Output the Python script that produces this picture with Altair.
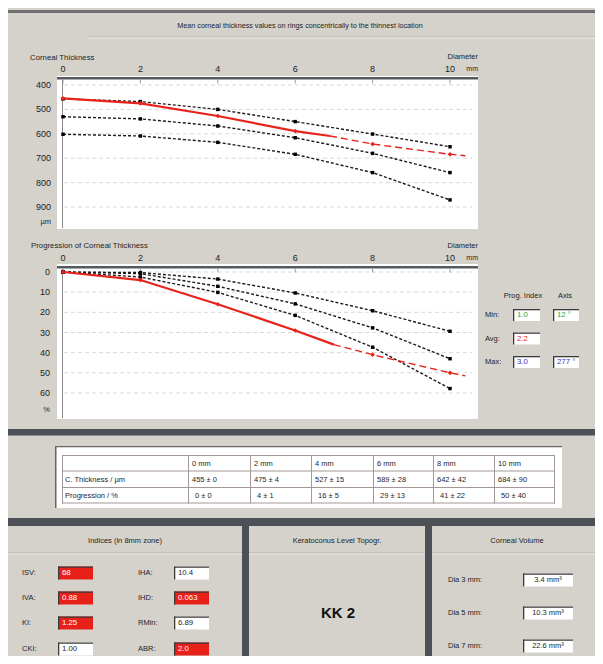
import altair as alt
import pandas as pd

# ---------------- data ----------------
diam = [0, 2, 4, 6, 8, 10]
thick_patient = [455, 475, 527, 589, 642, 684]
thick_sd = [0, 4, 15, 28, 42, 90]
prog_patient = [0, 4, 16, 29, 41, 50]
prog_sd = [0, 1, 5, 13, 22, 40]

norm_thick_a = [457, 468, 500, 550, 601, 653]
norm_thick_b = [530, 539, 568, 616, 680, 759]
norm_thick_c = [602, 609, 635, 684, 759, 871]
norm_prog_a = [0, 0.3, 3.5, 10.4, 19.2, 29.4]
norm_prog_b = [0, 0.8, 7.1, 15.8, 27.7, 43.0]
norm_prog_c = [0, 2.5, 10.1, 21.5, 37.3, 57.8]

# end of the measured (solid) red curve and of the extrapolated (dashed) part
thick_solid_end = [6.9, 609]
thick_dash_end = [10.4, 690]
prog_solid_end = [7.0, 36]
prog_dash_end = [10.4, 51.5]

thick_ticks = [400, 500, 600, 700, 800, 900]
prog_ticks = [0, 10, 20, 30, 40, 50, 60]
diam_ticks = [0, 2, 4, 6, 8, 10]

prog_index_labels = ["Min:", "Avg:", "Max:"]
prog_index_values = ["1.0", "2.2", "3.0"]
prog_index_axes = ["12 °", "", "277 °"]
prog_index_colors = ["#2fa83a", "#e0201a", "#3535b5"]

index_names_left = ["ISV:", "IVA:", "KI:", "CKI:"]
index_values_left = ["68", "0.88", "1.25", "1.00"]
index_flag_left = [True, True, True, False]
index_names_right = ["IHA:", "IHD:", "RMin:", "ABR:"]
index_values_right = ["10.4", "0.063", "6.89", "2.0"]
index_flag_right = [False, True, False, True]

kk_level = "KK 2"
volume_labels = ["Dia 3 mm:", "Dia 5 mm:", "Dia 7 mm:"]
volume_values = ["3.4 mm³", "10.3 mm³", "22.6 mm³"]

# ---------------- layout helpers ----------------
OFF = 8
def px(v):
    return v - OFF

FONT = "Liberation Sans"
BG = "#d5d2cc"
DARK = "#4c5157"
RED = "#e8231b"
BOXRED = "#e8201a"
TXT = "#1e1e1e"

rects = []
def rect(x0, x1, y0, y1, fill):
    rects.append({"x": px(x0), "x2": px(x1), "y": px(y0), "y2": px(y1), "fill": fill})

def sunken(x0, x1, y0, y1, fill="#ffffff"):
    rect(x0, x1, y0, y1, fill)
    rect(x0, x1, y0, y0 + 1.3, "#3a3a3a")
    rect(x0, x0 + 1.3, y0, y1, "#3a3a3a")

texts = []
def txt(x, y, s, align="left", size=7.5, color=TXT, weight="normal"):
    texts.append({"x": px(x), "y": px(y), "t": s, "align": align,
                  "size": size, "color": color, "weight": weight})

# top frame
rect(8, 603, 10, 13, "#6f6f6f")
rect(88, 600, 36.5, 37.5, "#bdbab3")
rect(88, 600, 37.5, 38.5, "#eeece8")
txt(300, 26, "Mean corneal thickness values on rings concentrically to the thinnest location", "center", 7.2)

# thickness plot frame
rect(57, 478, 76, 229, "#ffffff")
rect(57, 478, 77, 79.5, "#555a5f")
rect(62, 63, 79.5, 228, "#8a8a8a")
txt(30, 57.5, "Corneal Thickness", "left", 7.8)
txt(478, 57, "Diameter", "right", 7.5)
txt(478, 68.5, "mm", "right", 7)
txt(51, 221.5, "µm", "right", 7.5)

# progression plot frame
rect(57, 478, 264, 419, "#ffffff")
rect(57, 478, 266, 268.5, "#555a5f")
rect(62, 63, 268.5, 418, "#8a8a8a")
txt(31, 246, "Progression of Corneal Thickness", "left", 7.8)
txt(478, 246, "Diameter", "right", 7.5)
txt(478, 257.5, "mm", "right", 7)
txt(50, 410, "%", "right", 7.5)

# progression index boxes
txt(523, 295.5, "Prog. Index", "center", 7.5)
txt(565, 295.5, "Axis", "center", 7.5)
for lab, val, ax, col, yc in zip(prog_index_labels, prog_index_values, prog_index_axes,
                                 prog_index_colors, [315, 338.5, 362]):
    txt(485, yc, lab, "left", 7.5)
    sunken(513, 540, yc - 6, yc + 6)
    txt(517, yc, val, "left", 7.8, col)
    if ax:
        sunken(553, 579, yc - 6, yc + 6)
        txt(557, yc, ax, "left", 7.8, col)

# separator
rect(8, 603, 429, 435.5, DARK)

# table
rect(55, 562, 446, 508, "#ffffff")
rect(55, 562, 446, 447.3, "#666666")
rect(55, 56.5, 446, 508, "#666666")
GRID = "#a39797"
rect(62, 555, 455, 456, GRID)
rect(62, 555, 470.5, 471.5, GRID)
rect(62, 555, 487, 488, GRID)
rect(62, 555, 502.5, 503.5, GRID)
col_left = [188, 250, 311, 373, 433, 494]
for xv in [62] + col_left + [554]:
    rect(xv, xv + 1, 455, 503.5, GRID)
txt(65, 479.5, "C. Thickness / µm")
txt(65, 495.5, "Progression / %")
for i, d in enumerate(diam):
    x0 = col_left[i]
    txt(x0 + 4, 463.5, f"{d} mm")
    txt(x0 + 4, 479.5, f"{thick_patient[i]} ± {thick_sd[i]}")
    txt(x0 + 7, 495.5, f"{prog_patient[i]} ± {prog_sd[i]}")

# bottom separators and panels
rect(8, 603, 518, 526, DARK)
rect(242, 249, 526, 664, DARK)
rect(425, 432, 526, 664, DARK)
for a, b in [(8, 242), (249, 425), (432, 603)]:
    rect(a, b, 552.5, 553.5, "#b3b0a9")
    rect(a, b, 553.5, 554.5, "#efede9")
txt(125, 541, "Indices (in 8mm zone)", "center")
txt(337, 541, "Keratoconus Level Topogr.", "center")
txt(517, 541, "Corneal Volume", "center")

for names, vals, flags, lx, bx0, bx1 in [
        (index_names_left, index_values_left, index_flag_left, 22, 58, 93),
        (index_names_right, index_values_right, index_flag_right, 138, 174, 209)]:
    for n, v, f, yc in zip(names, vals, flags, [573, 598, 623, 649]):
        txt(lx, yc, n)
        sunken(bx0, bx1, yc - 6.5, yc + 6.5, BOXRED if f else "#ffffff")
        txt(bx0 + 4, yc, v, "left", 7.8, "#ffffff" if f else TXT)

txt(338, 613, kk_level, "center", 15, "#111111", "bold")

for lab, val, yc in zip(volume_labels, volume_values, [580, 613, 646]):
    txt(448, yc, lab)
    sunken(523, 573, yc - 6.5, yc + 6.5)
    txt(548, yc, val, "center", 7.5)

rect_df = pd.DataFrame(rects)
text_df = pd.DataFrame(texts)

decor = alt.Chart(rect_df).mark_rect().encode(
    x=alt.X("x:Q", scale=None, axis=None),
    x2="x2:Q",
    y=alt.Y("y:Q", scale=None, axis=None),
    y2="y2:Q",
    fill=alt.Fill("fill:N", scale=None),
)

text_layers = []
for (al, wt), sub in text_df.groupby(["align", "weight"]):
    text_layers.append(
        alt.Chart(sub).mark_text(align=al, baseline="middle", font=FONT, fontWeight=wt).encode(
            x=alt.X("x:Q", scale=None, axis=None),
            y=alt.Y("y:Q", scale=None, axis=None),
            text="t:N",
            color=alt.Color("color:N", scale=None),
            size=alt.Size("size:Q", scale=None),
        )
    )


# ---------------- data panels ----------------
def panel(norms, patient, solid_end, dash_end, ydom, yrng, yticks,
          xlabel_y, ylabel_x, axis_y):
    xs = alt.Scale(domain=[0, 10], range=[px(63), px(450)], nice=False, zero=False)
    ys = alt.Scale(domain=ydom, range=[px(yrng[0]), px(yrng[1])], nice=False, zero=False)

    norm_df = pd.DataFrame([{"d": d, "v": v, "s": k}
                            for k, vals in enumerate(norms) for d, v in zip(diam, vals)])
    solid_df = pd.DataFrame(
        [{"d": d, "v": v} for d, v in zip(diam, patient) if d < solid_end[0]]
        + [{"d": solid_end[0], "v": solid_end[1]}])
    dash_df = pd.DataFrame(
        [{"d": solid_end[0], "v": solid_end[1]}]
        + [{"d": d, "v": v} for d, v in zip(diam, patient) if d > solid_end[0]]
        + [{"d": dash_end[0], "v": dash_end[1]}])
    pts_df = pd.DataFrame({"d": diam, "v": patient})
    yt_df = pd.DataFrame({"v": yticks})
    xt_df = pd.DataFrame({"d": diam_ticks})

    X = alt.X("d:Q", scale=xs, axis=None)
    Y = alt.Y("v:Q", scale=ys, axis=None)

    grid = alt.Chart(yt_df).mark_rule(color="#d9d9d9", strokeDash=[4, 3], strokeWidth=1).encode(
        y=Y, x=alt.value(px(64)), x2=alt.value(px(472)))
    ticks = alt.Chart(xt_df).mark_rule(color="#9a9a9a", strokeWidth=1).encode(
        x=X, y=alt.value(px(axis_y + 2.5)), y2=alt.value(px(axis_y + 6.5)))
    xlab = alt.Chart(xt_df).mark_text(font=FONT, fontSize=9, color="#222222", baseline="middle").encode(
        x=X, y=alt.value(px(xlabel_y)), text="d:Q")
    ylab = alt.Chart(yt_df).mark_text(font=FONT, fontSize=9, color="#222222", align="right",
                                      baseline="middle").encode(
        y=Y, x=alt.value(px(ylabel_x)), text="v:Q")
    nlines = alt.Chart(norm_df).mark_line(color="#1c1c1c", strokeWidth=1.4,
                                          strokeDash=[3, 2]).encode(x=X, y=Y, detail="s:N")
    npts = alt.Chart(norm_df).mark_square(color="#000000", size=12, opacity=1).encode(x=X, y=Y)
    rsolid = alt.Chart(solid_df).mark_line(color=RED, strokeWidth=2.2).encode(x=X, y=Y)
    rdash = alt.Chart(dash_df).mark_line(color=RED, strokeWidth=1.4, strokeDash=[7, 4]).encode(x=X, y=Y)
    rpts = alt.Chart(pts_df).mark_point(shape="diamond", filled=True, size=22, color=RED,
                                        opacity=1).encode(x=X, y=Y)
    return alt.layer(grid, ticks, xlab, ylab, nlines, npts, rsolid, rdash, rpts)


panel_th = panel([norm_thick_a, norm_thick_b, norm_thick_c], thick_patient,
                 thick_solid_end, thick_dash_end, [400, 900], [85, 207], thick_ticks,
                 68.5, 51, 77)
panel_pr = panel([norm_prog_a, norm_prog_b, norm_prog_c], prog_patient,
                 prog_solid_end, prog_dash_end, [0, 60], [272, 393], prog_ticks,
                 257.5, 50, 266)

chart = alt.layer(decor, panel_th, panel_pr, *text_layers).resolve_scale(
    x="independent", y="independent"
).properties(
    width=587, height=648, padding=0,
    autosize=alt.AutoSizeParams(type="none"),
).configure(background=BG).configure_view(stroke=None, fill=BG)

chart.save("out.html", embed_options={"renderer": "svg", "actions": False})
